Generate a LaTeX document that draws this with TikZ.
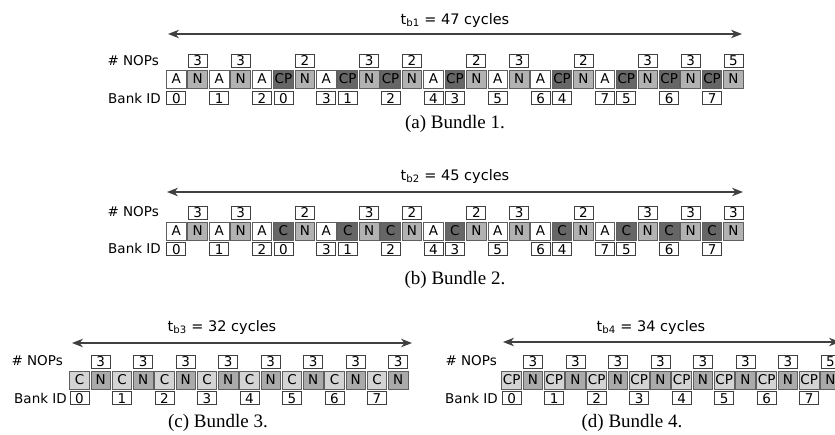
\documentclass[tikz,border=0pt]{standalone}
\usepackage{fontspec}
\setmainfont{DejaVu Sans}
\newfontfamily\capfont{Liberation Serif}
\usetikzlibrary{positioning,arrows.meta}

% toni di grigio delle celle
\definecolor{cellA}{gray}{1}
\definecolor{cellN}{RGB}{178,178,178}
\definecolor{cellCP}{RGB}{102,102,102}
\definecolor{cellL}{RGB}{212,212,212}
\definecolor{cellM}{RGB}{170,170,170}
\definecolor{edge}{RGB}{95,95,95}

\begin{document}
\begin{tikzpicture}[x=1pt, y=-1pt, font=\fontsize{13.5}{14}\selectfont,
    cell/.style={draw=edge, line width=0.9pt, minimum width=19.6pt, minimum height=18pt,
      inner sep=0pt, text height=9.8pt, text depth=0pt},
    tag/.style={draw=black!75, fill=white, line width=0.8pt, minimum width=19pt,
      minimum height=12.5pt, inner sep=0pt, text height=9.8pt, text depth=0pt},
    span/.style={<->, >={Stealth[length=11pt, width=8.5pt, inset=3.5pt]},
      line width=1.2pt, draw=black!75},
    rowlabel/.style={anchor=east, inner sep=0pt},
    title/.style={font=\fontsize{14.5}{15}\selectfont},
    subcap/.style={font=\capfont\fontsize{19}{20}\selectfont}]

    \useasboundingbox (0,0) rectangle (835,434);

    % Bundle 1
    \foreach \t/\c [count=\i] in {A/cellA, N/cellN, A/cellA, N/cellN, A/cellA, CP/cellCP,
        N/cellN, A/cellA, CP/cellCP, N/cellN, CP/cellCP, N/cellN, A/cellA, CP/cellCP,
        N/cellN, A/cellA, N/cellN, A/cellA, CP/cellCP, N/cellN, A/cellA, CP/cellCP,
        N/cellN, CP/cellCP, N/cellN, CP/cellCP, N/cellN}
      \node[cell, fill=\c] (a\i) at ({176.3+21.43*(\i-1)}, 79) {\t};
    \foreach \i/\n in {2/3, 4/3, 7/2, 10/3, 12/2, 15/2, 17/3, 20/2, 23/3, 25/3, 27/5}
      \node[tag, above=2pt of a\i] (anop\i) {\n};
    \foreach \i/\n in {1/0, 3/1, 5/2, 6/0, 8/3, 9/1, 11/2, 13/4, 14/3, 16/5, 18/6, 19/4,
        21/7, 22/5, 24/6, 26/7}
      \node[tag, below=3pt of a\i] (abank\i) {\n};
    \node[rowlabel] (anops) at (159,61) {\# NOPs};
    \node[rowlabel] (abank) at (161,98) {Bank ID};
    \coordinate (al) at (168,34);
    \coordinate (ar) at (742,34);
    \draw[span] (al) -- (ar);
    \node[title] (at) at (455,20) {t\textsubscript{b1} = 47 cycles};
    \node[subcap] (acap) at (455,124) {(a) Bundle 1.};

    % Bundle 2
    \foreach \t/\c [count=\i] in {A/cellA, N/cellN, A/cellA, N/cellN, A/cellA, C/cellCP,
        N/cellN, A/cellA, C/cellCP, N/cellN, C/cellCP, N/cellN, A/cellA, C/cellCP,
        N/cellN, A/cellA, N/cellN, A/cellA, C/cellCP, N/cellN, A/cellA, C/cellCP,
        N/cellN, C/cellCP, N/cellN, C/cellCP, N/cellN}
      \node[cell, fill=\c] (b\i) at ({176.3+21.43*(\i-1)}, 231) {\t};
    \foreach \i/\n in {2/3, 4/3, 7/2, 10/3, 12/2, 15/2, 17/3, 20/2, 23/3, 25/3, 27/3}
      \node[tag, above=2pt of b\i] (bnop\i) {\n};
    \foreach \i/\n in {1/0, 3/1, 5/2, 6/0, 8/3, 9/1, 11/2, 13/4, 14/3, 16/5, 18/6, 19/4,
        21/7, 22/5, 24/6, 26/7}
      \node[tag, below=2pt of b\i] (bbank\i) {\n};
    \node[rowlabel] (bnops) at (159,212) {\# NOPs};
    \node[rowlabel] (bbank) at (161,248) {Bank ID};
    \coordinate (bl) at (167,192);
    \coordinate (br) at (743,192);
    \draw[span] (bl) -- (br);
    \node[title] (bt) at (455,176) {t\textsubscript{b2} = 45 cycles};
    \node[subcap] (bcap) at (455,280) {(b) Bundle 2.};

    % Bundle 3
    \foreach \i in {1,...,16} {
      \ifodd\i
        \node[cell, fill=cellL] (c\i) at ({79.5+21.25*(\i-1)}, 380) {C};
      \else
        \node[cell, fill=cellM] (c\i) at ({79.5+21.25*(\i-1)}, 380) {N};
        \node[tag, above=2pt of c\i] (cnop\i) {3};
      \fi
    }
    \foreach \i/\n in {1/0, 3/1, 5/2, 7/3, 9/4, 11/5, 13/6, 15/7}
      \node[tag, below=2pt of c\i] (cbank\i) {\n};
    \node[rowlabel] (cnops) at (63,361) {\# NOPs};
    \node[rowlabel] (cbank) at (67,398) {Bank ID};
    \coordinate (cl) at (72,343);
    \coordinate (cr) at (412,343);
    \draw[span] (cl) -- (cr);
    \node[title] (ct) at (222,327) {t\textsubscript{b3} = 32 cycles};
    \node[subcap] (ccap) at (218,423) {(c) Bundle 3.};

    % Bundle 4
    \foreach \i in {1,...,16} {
      \ifodd\i
        \node[cell, fill=cellL] (d\i) at ({511.7+21.25*(\i-1)}, 380) {CP};
      \else
        \node[cell, fill=cellM] (d\i) at ({511.7+21.25*(\i-1)}, 380) {N};
      \fi
    }
    \foreach \i/\n in {2/3, 4/3, 6/3, 8/3, 10/3, 12/3, 14/3, 16/5}
      \node[tag, above=2pt of d\i] (dnop\i) {\n};
    \foreach \i/\n in {1/0, 3/1, 5/2, 7/3, 9/4, 11/5, 13/6, 15/7}
      \node[tag, below=2pt of d\i] (dbank\i) {\n};
    \node[rowlabel] (dnops) at (497,361) {\# NOPs};
    \node[rowlabel] (dbank) at (498,398) {Bank ID};
    \coordinate (dl) at (503,342);
    \coordinate (dr) at (840,342);
    \draw[span] (dl) -- (dr);
    \node[title] (dt) at (651,327) {t\textsubscript{b4} = 34 cycles};
    \node[subcap] (dcap) at (632,423) {(d) Bundle 4.};

\end{tikzpicture}
\end{document}
